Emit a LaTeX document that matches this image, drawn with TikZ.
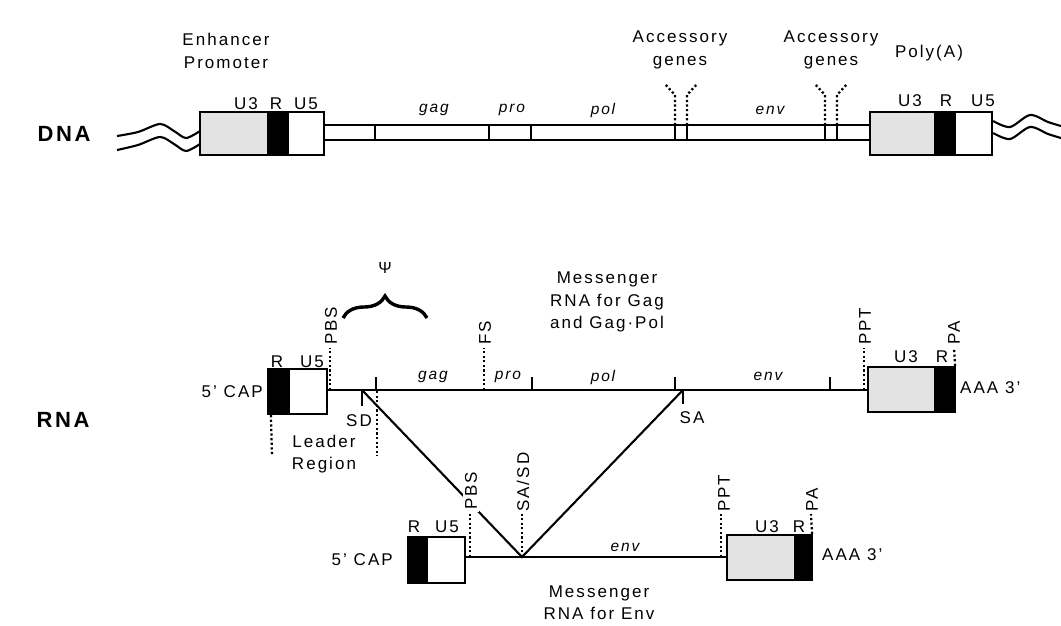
\documentclass[tikz,border=0pt]{standalone}
\usepackage{fontspec}
\setmainfont{Liberation Sans}[LetterSpace=12]
\usetikzlibrary{decorations.pathreplacing}

\begin{document}
\begin{tikzpicture}[x=1pt, y=-1pt,
  every node/.style={inner sep=0pt},
  lbl/.style={font=\fontsize{17}{22.5}\selectfont, align=center},
  gene/.style={font=\fontsize{15.5}{18}\selectfont\itshape},
  big/.style={font=\fontsize{22}{26}\selectfont\bfseries},
  box/.style={draw, line width=2.2pt, minimum height=43},
  ln/.style={line width=2.1pt},
  dots/.style={line width=2.3pt, dash pattern=on 2.2pt off 2.4pt},
  site/.style={lbl, rotate=90, anchor=west}]
  \useasboundingbox (0,0) rectangle (1061,625);

  % DNA provirus
  \node[big] (dna) at (64,134) {DNA};
  \node[box, fill=gray!22, minimum width=68] (lu3) at (234,133.5) {};
  \node[box, fill=black, minimum width=20] (lr) at (278,133.5) {};
  \node[box, fill=white, minimum width=36] (lu5) at (306,133.5) {};
  \node[box, fill=gray!22, minimum width=65] (ru3) at (902.5,133.5) {};
  \node[box, fill=black, minimum width=20] (rr) at (945,133.5) {};
  \node[box, fill=white, minimum width=37] (ru5) at (973.5,133.5) {};

  \draw[ln] plot[smooth] coordinates {(117,136) (138,132) (160,124) (174,131) (186,138) (200,131)};
  \draw[ln] plot[smooth] coordinates {(117,150) (138,145) (160,137) (174,144) (186,151) (200,144)};
  \draw[ln] plot[smooth] coordinates {(ru5.east |- 0,121) (1010,127) (1030,115) (1048,122) (1061,126)};
  \draw[ln] plot[smooth] coordinates {(ru5.east |- 0,133) (1010,139) (1030,127) (1048,134) (1061,138)};

  \draw[ln] (lu5.east |- 0,125) -- (ru3.west |- 0,125);
  \draw[ln] (lu5.east |- 0,140) -- (ru3.west |- 0,140);
  \foreach \x in {375,489,531,675,687,825,837}
    \draw[ln] (\x,125) -- (\x,140);
  \foreach \x/\s in {675/-1,687/1,825/-1,837/1}
    \draw[dots] (\x,125) -- (\x,95) -- ({\x+10*\s},84);

  \node[lbl] (lu3t) at (246,104) {U3};
  \node[lbl] (lrt) at (276,104) {R};
  \node[lbl] (lu5t) at (306,104) {U5};
  \node[lbl] (ru3t) at (910,101) {U3};
  \node[lbl] (rrt) at (946,101) {R};
  \node[lbl] (ru5t) at (983,101) {U5};
  \node[gene] (dgag) at (434,110) {gag};
  \node[gene] (dpro) at (512,110) {pro};
  \node[gene] (dpol) at (603,110) {pol};
  \node[gene] (denv) at (770,110) {env};
  \node[lbl] (enh) at (226,51) {Enhancer\\Promoter};
  \node[lbl] (acc1) at (680,50) {Accessory\\genes};
  \node[lbl] (acc2) at (831,50) {Accessory\\genes};
  \node[lbl] (polya) at (929,53) {Poly(A)};

  % RNA
  \node[big] (rna) at (63,420) {RNA};

  % messenger RNA for Gag and Gag-Pol
  \coordinate (sd) at (362,390);
  \coordinate (sa) at (683,390);
  \coordinate (apex) at (522,557);
  \node[box, fill=black, minimum width=21, minimum height=45] (cr) at (278.5,391.5) {};
  \node[box, fill=white, minimum width=38, minimum height=45] (cu5) at (308,391.5) {};
  \node[box, fill=gray!22, minimum width=67, minimum height=45] (gu3) at (901.5,389.5) {};
  \node[box, fill=black, minimum width=20, minimum height=45] (gr) at (945,389.5) {};
  \draw[ln] (cu5.east |- sd) -- (gu3.west |- sd);
  \foreach \x in {376,532,675,830}
    \draw[ln] (\x,390) -- (\x,377);
  \draw[ln] (sd) -- ++(0,16);
  \draw[ln] (sa) -- ++(0,14);
  \draw[ln] (sd) -- (apex) -- (sa);

  \draw[dots] (330,390) -- (330,348);
  \draw[dots] (484,390) -- (484,348);
  \draw[dots] (864,390) -- (864,348);
  \draw[dots] (gr.north east) ++(-1,0) -- (954,348);
  \draw[dots] (cr.south west) ++(4,0) -- (272,456);
  \draw[dots] (377,391) -- (377,456);

  \node[site] (pbs1) at (331,345) {PBS};
  \node[site] (fs) at (485,345) {FS};
  \node[site] (ppt1) at (865,345) {PPT};
  \node[site] (pa1) at (954,345) {PA};
  \draw[line width=3.4pt, decorate, decoration={brace, amplitude=22pt}] (343,318) -- (427,318);
  \node[font=\fontsize{16}{18}\selectfont] (psi) at (385,268) {Ψ};

  \node[lbl] (cr1t) at (277,362) {R};
  \node[lbl] (cu51t) at (312,362) {U5};
  \node[lbl] (gu3t) at (906,357) {U3};
  \node[lbl] (grt) at (942,357) {R};
  \node[gene] (gag) at (433,377) {gag};
  \node[gene] (pro) at (508,377) {pro};
  \node[gene] (pol) at (603,377) {pol};
  \node[gene] (env1) at (768,376) {env};
  \node[lbl] (sdt) at (359,421) {SD};
  \node[lbl] (sat) at (692,418) {SA};
  \node[lbl, anchor=east] (cap1) at (263,392) {5' CAP};
  \node[lbl, anchor=west] (aaa1) at (960,388) {AAA 3'};
  \node[lbl] (msg1) at (607,302) {Messenger\\RNA for Gag\\and Gag·Pol};
  \node[lbl] (lead) at (324,454) {Leader\\Region};

  % messenger RNA for Env
  \node[box, fill=black, minimum width=19, minimum height=46] (er) at (417.5,560) {};
  \node[box, fill=white, minimum width=38, minimum height=46] (eu5) at (446,560) {};
  \node[box, fill=gray!22, minimum width=68, minimum height=45] (hu3) at (761,557.5) {};
  \node[box, fill=black, minimum width=17, minimum height=45] (hr) at (803.5,557.5) {};
  \draw[ln] (eu5.east |- apex) -- (hu3.west |- apex);

  \draw[dots] (470,557) -- (470,514);
  \draw[dots] (apex) -- (522,514);
  \draw[dots] (721,557) -- (721,514);
  \draw[dots] (hr.north east) ++(-1,0) -- (811,514);

  \node[site, fill=white, inner sep=2pt] (pbs2) at (471,512) {PBS};
  \node[site] (sasd) at (523,512) {SA/SD};
  \node[site] (ppt2) at (724,512) {PPT};
  \node[site] (pa2) at (812,512) {PA};

  \node[lbl] (er2t) at (414,527) {R};
  \node[lbl] (eu52t) at (447,527) {U5};
  \node[lbl] (hu3t) at (767,527) {U3};
  \node[lbl] (hrt) at (799,527) {R};
  \node[gene] (env2) at (625,547) {env};
  \node[lbl, anchor=east] (cap2) at (393,560) {5' CAP};
  \node[lbl, anchor=west] (aaa2) at (822,555) {AAA 3'};
  \node[lbl] (msg2) at (599,602.5) {Messenger\\RNA for Env};
\end{tikzpicture}
\end{document}
